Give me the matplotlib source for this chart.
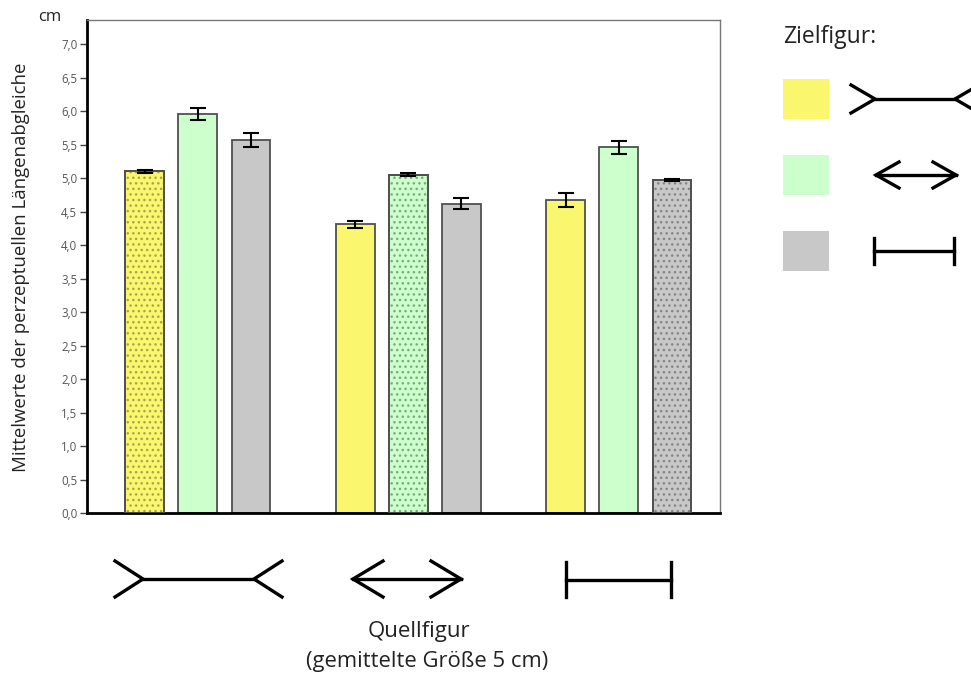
import matplotlib.pyplot as plt
import numpy as np
from matplotlib.patches import Rectangle

plt.rcParams["font.family"] = ["Open Sans", "DejaVu Sans"]

# Quellfigur groups x Zielfigur series
series_names = ["Pfeile aussen", "Pfeile innen", "Querstriche"]
means = {
    "Pfeile aussen": [5.10, 4.31, 4.67],
    "Pfeile innen": [5.96, 5.05, 5.46],
    "Querstriche": [5.57, 4.62, 4.97],
}
errors = {
    "Pfeile aussen": [0.02, 0.05, 0.10],
    "Pfeile innen": [0.09, 0.02, 0.10],
    "Querstriche": [0.10, 0.08, 0.02],
}
colors = ["#faf76e", "#ccffcc", "#c8c8c8"]
dot_colors = ["#a8a450", "#7aaa7a", "#858585"]
yticks = np.arange(0, 7.01, 0.5)
ytick_labels = [f"{v:.1f}".replace(".", ",") for v in yticks]

fig = plt.figure(figsize=(9.71, 6.75), dpi=100)
ax = fig.add_axes([87 / 971, 162 / 675, 633 / 971, 493 / 675])

x = np.arange(3)
width = 0.185
step = 0.252
for i, name in enumerate(series_names):
    pos = x + (i - 1) * step
    ax.bar(pos, means[name], width, color=colors[i], edgecolor="#505050", linewidth=1.3, zorder=2)
    # dotted fill where source and target figure are the same
    ax.bar(pos[i], means[name][i], width, color="none", edgecolor=dot_colors[i],
           hatch="...", linewidth=0, zorder=2.5)
    ax.bar(pos[i], means[name][i], width, color="none", edgecolor="#505050", linewidth=1.3, zorder=2.6)
    ax.errorbar(pos, means[name], yerr=errors[name], fmt="none", ecolor="black",
                elinewidth=1.5, capsize=6, capthick=1.5, zorder=3)

ax.set_xlim(-0.527, 2.48)
ax.set_ylim(0, 7.36)
ax.set_xticks([])
ax.set_yticks(yticks)
ax.set_yticklabels(ytick_labels, fontsize=8.3, color="#555555")
ax.tick_params(axis="y", direction="out", length=5, width=1, color="#444444", pad=2)
ax.spines["left"].set_linewidth(2)
ax.spines["bottom"].set_linewidth(2)
for s in ["top", "right"]:
    ax.spines[s].set_color("#777777")
    ax.spines[s].set_linewidth(1)

# overlay in pixel coordinates for the figure glyphs and legend
ov = fig.add_axes([0, 0, 1, 1], zorder=5)
ov.set_xlim(0, 971)
ov.set_ylim(675, 0)
ov.axis("off")
ov.patch.set_alpha(0)

lw = 2.4


def fins_out(x0, x1, yc, f=28, h=18):
    ov.plot([x0, x0 + f, x0], [yc - h, yc, yc + h], color="black", lw=lw, solid_joinstyle="miter")
    ov.plot([x0 + f, x1 - f], [yc, yc], color="black", lw=lw)
    ov.plot([x1, x1 - f, x1], [yc - h, yc, yc + h], color="black", lw=lw, solid_joinstyle="miter")


def fins_in(x0, x1, yc, f=30, h=18):
    ov.plot([x0 + f, x0, x0 + f], [yc - h, yc, yc + h], color="black", lw=lw, solid_joinstyle="miter")
    ov.plot([x0, x1], [yc, yc], color="black", lw=lw)
    ov.plot([x1 - f, x1, x1 - f], [yc - h, yc, yc + h], color="black", lw=lw, solid_joinstyle="miter")


def bars_end(x0, x1, yc, h=17.5):
    ov.plot([x0, x0], [yc - h, yc + h], color="black", lw=lw)
    ov.plot([x0, x1], [yc, yc], color="black", lw=lw)
    ov.plot([x1, x1], [yc - h, yc + h], color="black", lw=lw)


fins_out(115, 282, 579)
fins_in(353, 461, 579)
bars_end(566, 671, 579.5)

fins_out(851, 979, 99, f=24, h=14)
fins_in(876, 956, 175, f=23, h=13)
bars_end(874, 954, 251, h=13)

for yy, c in zip([79, 155, 231], colors):
    ov.add_patch(Rectangle((783, yy), 46, 40, color=c, lw=0))

ov.text(21, 267, "Mittelwerte der perzeptuellen Längenabgleiche", fontsize=13.4,
        rotation=90, va="center", ha="center", color="#222222")
ov.text(783, 37, "Zielfigur:", fontsize=16.5, va="center", ha="left", color="#222222")
ov.text(50, 17, "cm", fontsize=12, va="center", ha="center", color="#222222")
ov.text(419, 632, "Quellfigur", fontsize=16, va="center", ha="center", color="#222222")
ov.text(427, 661, "(gemittelte Größe 5 cm)", fontsize=15.8, va="center", ha="center", color="#222222")

fig.savefig("out.png", dpi=100)
